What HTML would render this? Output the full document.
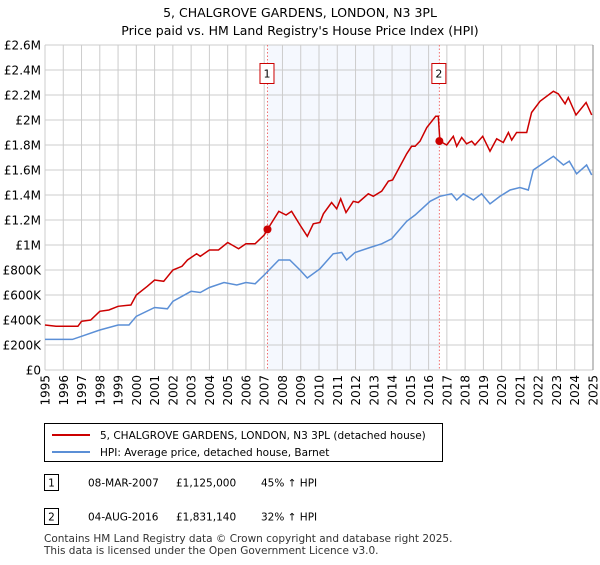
<!DOCTYPE html>
<html><head><meta charset="utf-8"><style>
body{margin:0;background:#fff;font-family:"Liberation Sans","DejaVu Sans",sans-serif;}
svg text{font-family:"DejaVu Sans","Liberation Sans",sans-serif;}
</style></head><body>
<svg id="c" width="600" height="560" xmlns="http://www.w3.org/2000/svg">
<text x="300" y="17" text-anchor="middle" font-size="12.5" fill="#000">5, CHALGROVE GARDENS, LONDON, N3 3PL</text>
<text x="300" y="35" text-anchor="middle" font-size="12.5" fill="#000">Price paid vs. HM Land Registry's House Price Index (HPI)</text>
<g id="plot"></g>
<g>
<rect x="44.5" y="423.5" width="398" height="38" fill="#fff" stroke="#000"/>
<line x1="52" y1="435" x2="90" y2="435" stroke="#cc0000" stroke-width="2"/>
<text x="100" y="439" font-size="10.5">5, CHALGROVE GARDENS, LONDON, N3 3PL (detached house)</text>
<line x1="52" y1="452" x2="90" y2="452" stroke="#5b8fd6" stroke-width="2"/>
<text x="100" y="456" font-size="10.5">HPI: Average price, detached house, Barnet</text>
</g>
<g font-size="10.5">
<rect x="44.5" y="474.5" width="14" height="16" fill="#fff" stroke="#000"/>
<text x="51.5" y="486.5" text-anchor="middle">1</text>
<text x="88" y="486.5">08-MAR-2007</text><text x="176" y="486.5">£1,125,000</text><text x="261" y="486.5">45% ↑ HPI</text>
<rect x="44.5" y="508.5" width="14" height="16" fill="#fff" stroke="#000"/>
<text x="51.5" y="520.5" text-anchor="middle">2</text>
<text x="88" y="520.5">04-AUG-2016</text><text x="176" y="520.5">£1,831,140</text><text x="261" y="520.5">32% ↑ HPI</text>
</g>
<text x="44" y="542" font-size="10.5" fill="#333">Contains HM Land Registry data © Crown copyright and database right 2025.</text>
<text x="44" y="554" font-size="10.5" fill="#333">This data is licensed under the Open Government Licence v3.0.</text>
</svg>
<script>
const yTicks=[0,200000,400000,600000,800000,1000000,1200000,1400000,1600000,1800000,2000000,2200000,2400000,2600000];
const yTickLabels=["£0","£200K","£400K","£600K","£800K","£1M","£1.2M","£1.4M","£1.6M","£1.8M","£2M","£2.2M","£2.4M","£2.6M"];
const xYears=[1995,1996,1997,1998,1999,2000,2001,2002,2003,2004,2005,2006,2007,2008,2009,2010,2011,2012,2013,2014,2015,2016,2017,2018,2019,2020,2021,2022,2023,2024,2025];
const hpiT=[1995,1996.5,1997,1998,1999,1999.6,2000,2001,2001.7,2002,2003,2003.5,2004,2004.8,2005.5,2006,2006.5,2007,2007.8,2008.4,2008.96,2009.36,2010.05,2010.78,2011.24,2011.51,2011.97,2012.79,2013.43,2013.98,2014.8,2015.26,2016.08,2016.62,2017.26,2017.54,2017.9,2018.45,2018.9,2019.36,2019.91,2020.46,2021.0,2021.46,2021.73,2022.83,2023.38,2023.7,2024.1,2024.65,2024.93];
const hpiV=[245,245,270,320,360,360,430,500,490,550,630,620,660,700,680,700,690,760,880,880,800,736,810,930,940,880,940,980,1010,1050,1190,1240,1350,1390,1410,1360,1410,1360,1410,1330,1390,1440,1460,1440,1600,1710,1640,1670,1570,1640,1560];
const priceT=[1995,1995.6,1996.8,1997,1997.5,1998,1998.5,1999,1999.7,2000,2000.6,2001,2001.5,2002,2002.5,2002.8,2003.3,2003.5,2004,2004.5,2005,2005.6,2006,2006.5,2007,2007.18,2007.8,2008.2,2008.5,2008.96,2009.36,2009.69,2010.05,2010.24,2010.69,2010.97,2011.19,2011.48,2011.88,2012.15,2012.7,2012.97,2013.43,2013.8,2014.03,2014.8,2015.07,2015.26,2015.53,2015.9,2016.39,2016.53,2016.62,2016.99,2017.35,2017.54,2017.81,2018.08,2018.36,2018.54,2018.96,2019.36,2019.73,2020.09,2020.37,2020.55,2020.82,2021.37,2021.64,2022.1,2022.83,2023.1,2023.47,2023.65,2024.07,2024.62,2024.93];
const priceV=[360,350,350,390,400,470,480,510,520,600,670,720,710,800,830,880,930,910,960,960,1020,970,1010,1010,1080,1125,1270,1240,1270,1160,1070,1170,1180,1250,1340,1290,1370,1260,1350,1340,1410,1390,1430,1510,1520,1730,1790,1790,1830,1940,2030,2030,1831,1800,1870,1790,1860,1810,1830,1800,1870,1750,1850,1820,1900,1840,1900,1900,2060,2150,2230,2210,2130,2180,2040,2140,2040];
const sales=[[2007.18,1125000,"1"],[2016.59,1831140,"2"]];
const NS="http://www.w3.org/2000/svg";
const X0=45,X1=593,Y0=370,Y1=45;
const xs=t=>X0+(t-1995)/30*(X1-X0);
const ys=v=>Y0-v/2600000*(Y0-Y1);
const g=document.getElementById('plot');
function mk(tag,attrs,parent){const e=document.createElementNS(NS,tag);for(const k in attrs)e.setAttribute(k,attrs[k]);(parent||g).appendChild(e);return e;}
const shade=mk('rect',{x:xs(sales[0][0]),y:Y1,width:xs(sales[1][0])-xs(sales[0][0]),height:Y0-Y1,fill:'#f5f8fe'});


yTicks.forEach((v,i)=>{
 const l=mk('line',{x1:X0,x2:X1,y1:ys(v),y2:ys(v),stroke:'#cccccc','stroke-width':1});
 
 
 const t=mk('text',{x:X0-4,y:ys(v)+4.5,'text-anchor':'end','font-size':'12',fill:'#000'});
 t.textContent=yTickLabels[i];
 
 
});
xYears.forEach(y=>{
 const l=mk('line',{x1:xs(y),x2:xs(y),y1:Y1,y2:Y0,stroke:'#cccccc','stroke-width':1});
 
 
 const t=mk('text',{x:0,y:0,'text-anchor':'end','font-size':'12',fill:'#000',transform:`translate(${xs(y)+4.5},${Y0+5}) rotate(-90)`});
 t.textContent=y;
 
 
});
const ax=mk('line',{x1:X1,x2:X1,y1:Y1,y2:Y0,stroke:'#888','stroke-width':1});


sales.forEach(s=>{
 const l=mk('line',{x1:xs(s[0]),x2:xs(s[0]),y1:Y1,y2:Y0,stroke:'#f07070','stroke-width':1,'stroke-dasharray':'1.5,2'});
 
 
 const b=mk('rect',{x:xs(s[0])-7.5,y:63.5,width:14,height:20,fill:'#fff',stroke:'#cc0000'});
 
 
 const t=mk('text',{x:xs(s[0])-0.5,y:77.5,'text-anchor':'middle','font-size':'11',fill:'#000'});
 t.textContent=s[2];
 
 
});
function path(T,V){return T.map((t,i)=>(i?'L':'M')+xs(t).toFixed(1)+','+ys(V[i]*1000).toFixed(1)).join('');}
const hp=mk('path',{d:path(hpiT,hpiV),fill:'none',stroke:'#5b8fd6','stroke-width':1.5});


const pp=mk('path',{d:path(priceT,priceV),fill:'none',stroke:'#cc0000','stroke-width':1.5});


sales.forEach(s=>{
 const c=mk('circle',{cx:xs(s[0]),cy:ys(s[1]),r:4,fill:'#cc0000'});
 
 
});
</script>
</body></html>
